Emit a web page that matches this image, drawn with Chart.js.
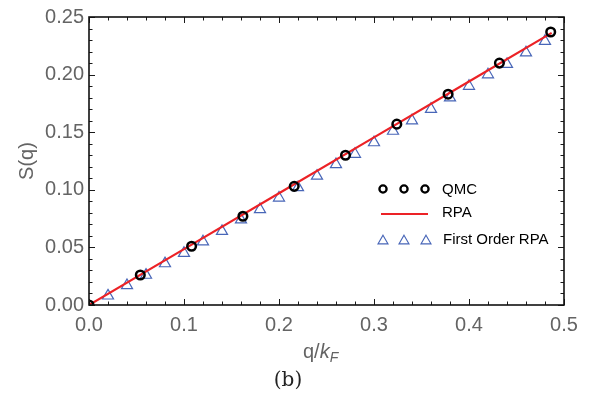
<!DOCTYPE html>
<html>
<head>
<meta charset="utf-8">
<script src="https://cdn.jsdelivr.net/npm/chart.js@4/dist/chart.umd.min.js"></script>
<style>
html,body{margin:0;padding:0;background:#fff;}
#wrap{width:589px;height:399px;}
</style>
</head>
<body>
<div id="wrap"><canvas id="c" width="589" height="399"></canvas></div>
<script>
// ---- data ----
const qmcQ = [0, 0.054, 0.108, 0.162, 0.216, 0.270, 0.324, 0.378, 0.432, 0.486];
const qmcS = [0, 0.026, 0.051, 0.077, 0.103, 0.130, 0.157, 0.183, 0.210, 0.237];

const rpaQ = [0, 0.1, 0.2, 0.3, 0.4, 0.487];
const rpaS = [0, 0.0485, 0.0970, 0.1455, 0.1940, 0.2362];

const firstQ = [0.02, 0.04, 0.06, 0.08, 0.10, 0.12, 0.14, 0.16, 0.18, 0.20, 0.22, 0.24,
                0.26, 0.28, 0.30, 0.32, 0.34, 0.36, 0.38, 0.40, 0.42, 0.44, 0.46, 0.48];
const firstS = [0.008, 0.017, 0.026, 0.036, 0.045, 0.055, 0.064, 0.074, 0.083, 0.093, 0.102, 0.112,
                0.122, 0.131, 0.141, 0.151, 0.160, 0.170, 0.180, 0.190, 0.200, 0.209, 0.219, 0.229];

const xTicks = [0, 0.1, 0.2, 0.3, 0.4, 0.5];
const yTicks = [0, 0.05, 0.10, 0.15, 0.20, 0.25];
const legendLabels = ['QMC', 'RPA', 'First Order RPA'];

const RED = '#ec2226';
const BLUE = '#4866b8';
const GRAY = '#646464';

const pts = (xs, ys) => xs.map((x, i) => ({x: x, y: ys[i]}));

const framePlugin = {
  id: 'frame',
  afterDatasetsDraw(chart) {
    const {ctx, chartArea: a, scales: {x, y}} = chart;
    ctx.save();
    ctx.strokeStyle = '#1a1a1a';
    ctx.lineWidth = 1;
    // ticks
    for (let i = 0; i <= 25; i++) {
      const v = i * 0.02;
      const px = Math.round(x.getPixelForValue(v)) + 0.5;
      const len = (i % 5 === 0) ? 6 : 3.5;
      ctx.beginPath();
      ctx.moveTo(px, a.bottom); ctx.lineTo(px, a.bottom - len);
      ctx.moveTo(px, a.top); ctx.lineTo(px, a.top + len);
      ctx.stroke();
    }
    for (let i = 0; i <= 25; i++) {
      const v = i * 0.01;
      const py = Math.round(y.getPixelForValue(v)) + 0.5;
      const len = (i % 5 === 0) ? 6 : 3.5;
      ctx.beginPath();
      ctx.moveTo(a.left, py); ctx.lineTo(a.left + len, py);
      ctx.moveTo(a.right, py); ctx.lineTo(a.right - len, py);
      ctx.stroke();
    }
    ctx.lineWidth = 1.6;
    ctx.strokeStyle = '#111';
    ctx.strokeRect(a.left, a.top, a.right - a.left, a.bottom - a.top);

    // legend
    ctx.lineWidth = 2.3;
    ctx.strokeStyle = '#000';
    [383, 404, 425].forEach(cx => {
      ctx.beginPath(); ctx.arc(cx, 189, 3.6, 0, Math.PI * 2); ctx.stroke();
    });
    ctx.strokeStyle = RED; ctx.lineWidth = 2;
    ctx.beginPath(); ctx.moveTo(381, 214); ctx.lineTo(428, 214); ctx.stroke();
    ctx.strokeStyle = BLUE; ctx.lineWidth = 1.1;
    [383, 404, 426].forEach(cx => {
      const r = 5.8;
      ctx.beginPath();
      ctx.moveTo(cx, 241 - r);
      ctx.lineTo(cx + r * 0.866, 241 + r * 0.5);
      ctx.lineTo(cx - r * 0.866, 241 + r * 0.5);
      ctx.closePath(); ctx.stroke();
    });
    ctx.fillStyle = '#000';
    ctx.font = '15px "Liberation Sans", Arial, sans-serif';
    ctx.textBaseline = 'middle';
    ctx.textAlign = 'left';
    ctx.fillText(legendLabels[0], 442, 190);
    ctx.fillText(legendLabels[1], 442, 213);
    ctx.fillText(legendLabels[2], 443, 240);

    // x axis title q/k_F
    ctx.fillStyle = GRAY;
    ctx.textBaseline = 'alphabetic';
    let tx = 303, ty = 358;
    ctx.font = '20px "Liberation Sans", Arial, sans-serif';
    ctx.fillText('q/', tx, ty); tx += ctx.measureText('q/').width;
    ctx.font = 'italic 20px "Liberation Sans", Arial, sans-serif';
    ctx.fillText('k', tx, ty); tx += ctx.measureText('k').width;
    ctx.font = 'italic 14px "Liberation Sans", Arial, sans-serif';
    ctx.fillText('F', tx, ty + 4);

    // panel label
    ctx.fillStyle = '#222';
    ctx.font = '20px "DejaVu Serif", "Liberation Serif", serif';
    ctx.textAlign = 'center';
    ctx.textBaseline = 'middle';
    ctx.fillText('(b)', 288, 381);
    ctx.restore();
  }
};

new Chart(document.getElementById('c'), {
  type: 'scatter',
  data: {
    datasets: [
      {
        label: legendLabels[1],
        data: pts(rpaQ, rpaS),
        showLine: true,
        borderColor: RED,
        borderWidth: 2.2,
        pointRadius: 0,
        order: 2
      },
      {
        label: legendLabels[2],
        data: pts(firstQ, firstS),
        pointStyle: 'triangle',
        pointRadius: 6.4,
        borderColor: BLUE,
        backgroundColor: 'rgba(0,0,0,0)',
        borderWidth: 1.2,
        order: 3
      },
      {
        label: legendLabels[0],
        data: pts(qmcQ, qmcS),
        pointStyle: 'circle',
        pointRadius: 4.3,
        borderColor: '#000',
        backgroundColor: 'rgba(0,0,0,0)',
        borderWidth: 2.5,
        order: 1
      }
    ]
  },
  options: {
    responsive: false,
    animation: false,
    events: [],
    layout: {padding: {left: 0, right: 25, top: 14, bottom: 0}},
    plugins: {legend: {display: false}, tooltip: {enabled: false}},
    scales: {
      x: {
        type: 'linear', min: 0, max: 0.5,
        grid: {display: false, drawTicks: false},
        border: {display: false},
        afterBuildTicks: s => { s.ticks = xTicks.map(v => ({value: v})); },
        afterFit: s => { s.height = 94; },
        ticks: {
          padding: 8,
          color: GRAY,
          font: {family: '"Liberation Sans", Arial, sans-serif', size: 20},
          maxRotation: 0,
          callback: v => v.toFixed(1)
        }
      },
      y: {
        type: 'linear', min: 0, max: 0.25,
        grid: {display: false, drawTicks: false},
        border: {display: false},
        afterBuildTicks: s => { s.ticks = yTicks.map(v => ({value: v})); },
        afterFit: s => { s.width = 89; },
        title: {
          display: true, text: 'S(q)', color: GRAY,
          font: {family: '"Liberation Sans", Arial, sans-serif', size: 20},
          padding: {top: 15, bottom: 0}
        },
        ticks: {
          padding: 5,
          color: GRAY,
          font: {family: '"Liberation Sans", Arial, sans-serif', size: 20},
          callback: v => v.toFixed(2)
        }
      }
    }
  },
  plugins: [framePlugin]
});
</script>
</body>
</html>
